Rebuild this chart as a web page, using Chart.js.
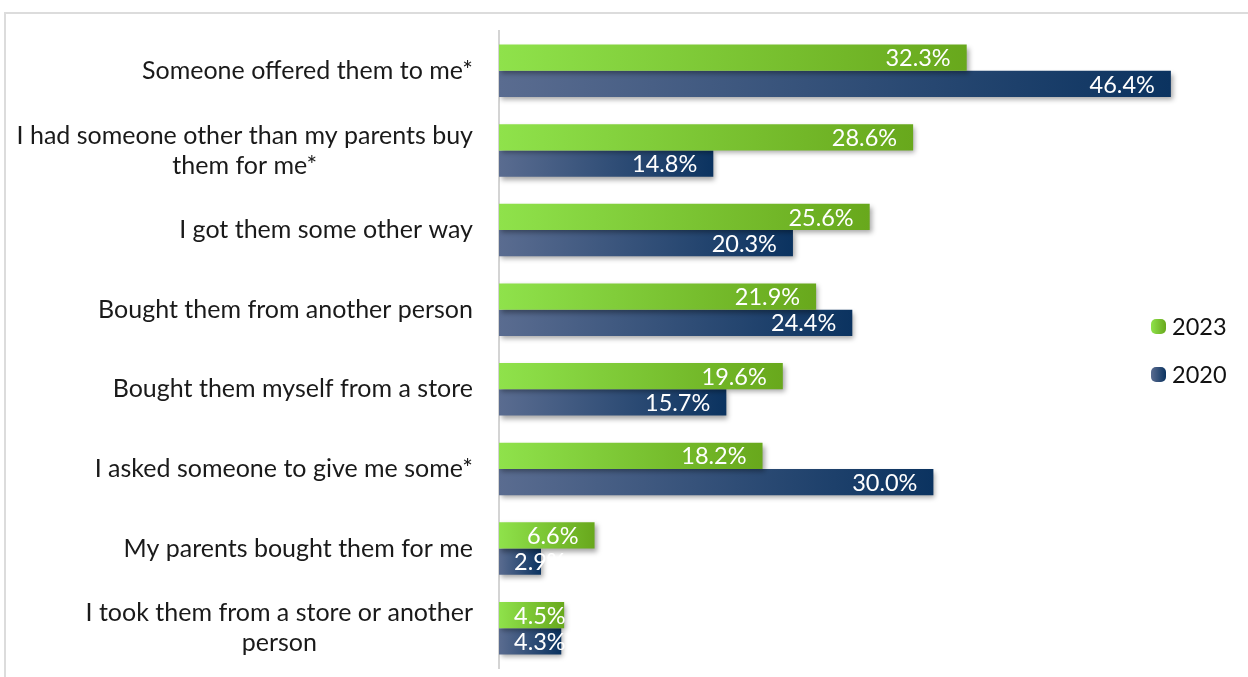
<!DOCTYPE html>
<html>
<head>
<meta charset="utf-8">
<script src="https://cdn.jsdelivr.net/npm/chart.js@4.4.1/dist/chart.umd.min.js"></script>
<style>
  html, body { margin: 0; padding: 0; background: #fff; }
  #wrap { width: 1248px; height: 677px; position: relative; }
</style>
</head>
<body>
<div id="wrap"><canvas id="myChart" width="1248" height="677"></canvas></div>
<script>
// survey answers, top to bottom
const categories = [
  ["Someone offered them to me*"],
  ["I had someone other than my parents buy", "them for me*"],
  ["I got them some other way"],
  ["Bought them from another person"],
  ["Bought them myself from a store"],
  ["I asked someone to give me some*"],
  ["My parents bought them for me"],
  ["I took them from a store or another", "person"],
];
const values2023 = [32.3, 28.6, 25.6, 21.9, 19.6, 18.2, 6.6, 4.5];
const values2020 = [46.4, 14.8, 20.3, 24.4, 15.7, 30.0, 2.9, 4.3];
const seriesNames = ["2023", "2020"];

const FONT = "Lato, 'Open Sans', sans-serif";
const green = ["#8fe24b", "#68a81c"];
const navy = ["#5a6c90", "#0b3360"];

const ctx = document.getElementById("myChart");

// fill each bar with a left-to-right gradient across its own length
const barGradient = (stops) => (c) => {
  const chart = c.chart;
  const area = chart.chartArea;
  if (!area) return stops[1];
  const v = c.dataset.data[c.dataIndex];
  const x1 = chart.scales.x.getPixelForValue(v);
  const g = chart.ctx.createLinearGradient(area.left, 0, Math.max(x1, area.left + 1), 0);
  g.addColorStop(0, stops[0]);
  g.addColorStop(1, stops[1]);
  return g;
};

const framePlugin = {
  id: "frame",
  beforeDraw(chart) {
    const c = chart.ctx;
    c.save();
    c.strokeStyle = "#dcdcdc";
    c.lineWidth = 2;
    c.beginPath();
    c.moveTo(5, chart.height);
    c.lineTo(5, 13);
    c.lineTo(chart.width, 13);
    c.stroke();
    c.restore();
  },
};

const shadowPlugin = {
  id: "barShadow",
  beforeDatasetsDraw(chart) {
    const c = chart.ctx;
    c.save();
    c.shadowColor = "rgba(0,0,0,0.35)";
    c.shadowBlur = 5;
    c.shadowOffsetX = 2;
    c.shadowOffsetY = 3;
  },
  afterDatasetsDraw(chart) {
    chart.ctx.restore();
  },
};

const valueLabels = {
  id: "valueLabels",
  afterDatasetsDraw(chart) {
    const c = chart.ctx;
    c.save();
    c.font = "23.5px " + FONT;
    c.fillStyle = "#ffffff";
    c.textAlign = "right";
    c.textBaseline = "middle";
    chart.data.datasets.forEach((ds, i) => {
      chart.getDatasetMeta(i).data.forEach((bar, j) => {
        const txt = ds.data[j].toFixed(1) + "%";
        const w = c.measureText(txt).width;
        const x = Math.max(bar.x - 16, bar.base + 15 + w);
        c.fillText(txt, x, bar.y + 1);
      });
    });
    c.restore();
  },
};

// category text: right-aligned block, lines centred inside the block
const categoryLabels = {
  id: "categoryLabels",
  afterDraw(chart) {
    const c = chart.ctx;
    const y = chart.scales.y;
    c.save();
    c.font = "25px " + FONT;
    c.fillStyle = "#1a1a1a";
    c.textAlign = "center";
    c.textBaseline = "middle";
    const right = 473;
    const lineH = 30;
    categories.forEach((lines, i) => {
      const cy = y.getPixelForValue(i);
      const block = Math.max(...lines.map((l) => c.measureText(l).width));
      const cx = right - block / 2;
      lines.forEach((l, k) => {
        c.fillText(l, cx, cy + (k - (lines.length - 1) / 2) * lineH);
      });
    });
    c.restore();
  },
};

const legendPlugin = {
  id: "sideLegend",
  afterDraw(chart) {
    const c = chart.ctx;
    const items = [
      { text: seriesNames[0], stops: green, y: 326 },
      { text: seriesNames[1], stops: navy, y: 374 },
    ];
    c.save();
    c.font = "23.5px " + FONT;
    c.textBaseline = "middle";
    c.textAlign = "left";
    items.forEach((it) => {
      const g = c.createLinearGradient(1151, 0, 1166, 0);
      g.addColorStop(0, it.stops[0]);
      g.addColorStop(1, it.stops[1]);
      c.fillStyle = g;
      c.beginPath();
      c.roundRect(1151, it.y - 7, 15, 15, 5);
      c.fill();
      c.fillStyle = "#111";
      c.fillText(it.text, 1172, it.y + 1);
    });
    c.restore();
  },
};

new Chart(ctx, {
  type: "bar",
  data: {
    labels: categories.map((l) => l.join(" ")),
    datasets: [
      {
        label: seriesNames[0],
        data: values2023,
        backgroundColor: barGradient(green),
        categoryPercentage: 0.66,
        barPercentage: 1.0,
      },
      {
        label: seriesNames[1],
        data: values2020,
        backgroundColor: barGradient(navy),
        categoryPercentage: 0.66,
        barPercentage: 1.0,
      },
    ],
  },
  options: {
    responsive: false,
    animation: false,
    indexAxis: "y",
    layout: { padding: { left: 0, right: 25, top: 31, bottom: 9 } },
    plugins: {
      legend: { display: false },
      tooltip: { enabled: false },
    },
    scales: {
      x: { min: 0, max: 50, display: false },
      y: {
        grid: { display: false, drawTicks: false },
        border: { display: true, color: "#d4d4d4", width: 2 },
        ticks: { display: false },
        afterFit(scale) {
          scale.width = 499;
        },
      },
    },
  },
  plugins: [framePlugin, shadowPlugin, valueLabels, categoryLabels, legendPlugin],
});
</script>
</body>
</html>
